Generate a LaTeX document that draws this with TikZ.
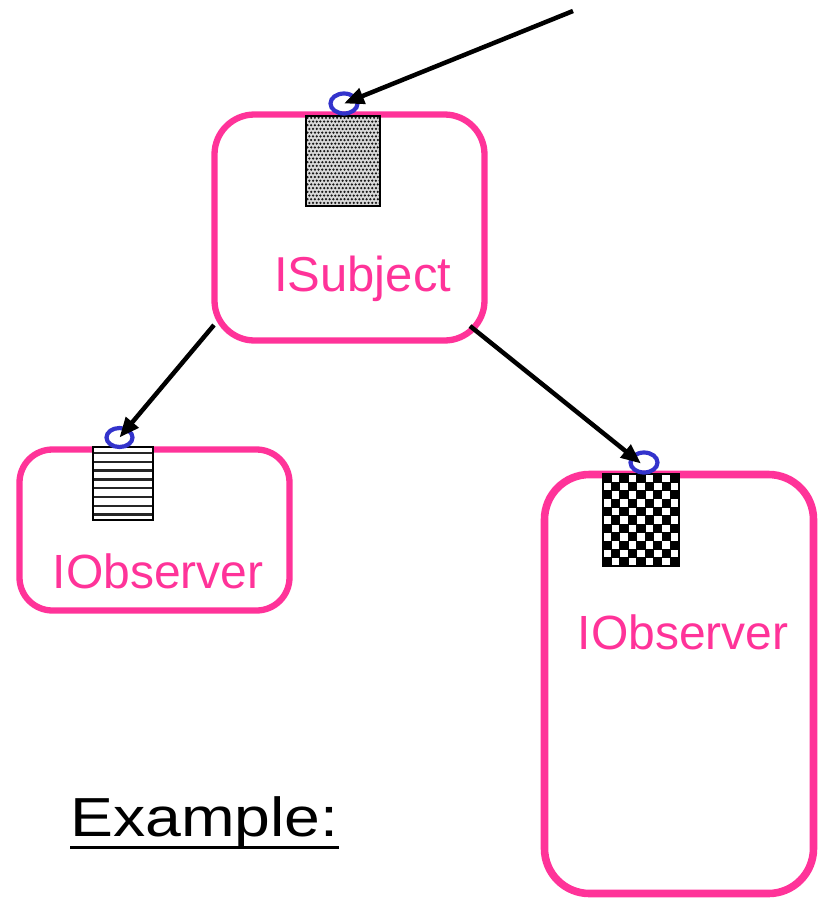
\documentclass[tikz,border=0pt]{standalone}
\usepackage{fontspec}
\setmainfont{Liberation Sans}
\usetikzlibrary{arrows.meta,shapes.geometric}
\definecolor{ifpink}{RGB}{255,51,153}
\definecolor{lollyblue}{RGB}{51,51,204}
\tikzset{
  compbox/.style={draw=ifpink, rounded corners=#1, inner sep=0pt},
  ifacebox/.style={draw=black, line width=2pt, fill=white, inner sep=0pt},
  lolly/.style={ellipse, draw=lollyblue, line width=4.2pt, inner sep=0pt,
                minimum width=27pt, minimum height=20pt},
  link/.style={draw=black, line width=4.5pt,
               -{Triangle[length=20pt,width=16pt]}},
  iflabel/.style={text=ifpink, font=\fontsize{48}{52}\selectfont,
                  anchor=base west, inner sep=0pt}
}
\begin{document}
\begin{tikzpicture}[x=1pt,y=-1pt]
\useasboundingbox (0,0) rectangle (819,898);

% components
\node[compbox=40pt, line width=6.3pt, minimum width=270pt, minimum height=226pt]
  (subject) at (349.5,227.5) {};
\node[compbox=33pt, line width=6.3pt, minimum width=270pt, minimum height=161pt]
  (obsA) at (154.5,530) {};
\node[compbox=45pt, line width=7.6pt, minimum width=269pt, minimum height=419pt]
  (obsB) at (679,684) {};

% labels
\node[iflabel, font=\fontsize{49}{53}\selectfont] (subjectlbl) at (274,291) {ISubject};
\node[iflabel] (obsAlbl) at (52.5,588) {IObserver};
\node[iflabel] (obsBlbl) at (577.5,649) {IObserver};

% interface blocks with their fill patterns
\node[ifacebox, minimum width=74pt, minimum height=90pt] (subjIf) at (343,161) {};
\begin{scope}
  \clip (306,116) rectangle (380,206);
  \fill[black!15] (306,116) rectangle (380,206);
  \foreach \i in {0,...,20}
    \foreach \j in {0,...,24} {
      \pgfmathsetmacro\dx{mod(\j,2)*1.85}
      \fill[black!90] (306+1.5+\dx+3.7*\i, 116+1.8+3.7*\j) circle (1.25pt);
    }
\end{scope}
\draw[line width=2pt] (306,116) rectangle (380,206);

\node[ifacebox, minimum width=60pt, minimum height=73pt] (obsAIf) at (123,483.5) {};
\foreach \k in {0,...,7}
  \draw[black!85, line width=2.3pt] (93,453+8.8*\k) -- (153,453+8.8*\k);
\draw[line width=2pt] (93,447) rectangle (153,520);

\node[ifacebox, minimum width=76pt, minimum height=92pt] (obsBIf) at (641,520) {};
\foreach \i in {0,...,8}
  \foreach \j in {0,...,10} {
    \pgfmathtruncatemacro\chk{mod(\i+\j,2)}
    \ifnum\chk=0
      \fill[black] (603+8.444*\i-0.4, 474+8.364*\j-0.4) rectangle ++(9.2,9.1);
    \fi
  }
\draw[line width=2pt] (603,474) rectangle (679,566);

% provided-interface sockets
\node[lolly] (subjSock) at (344,103.5) {};
\node[lolly, minimum width=26pt, minimum height=19pt] (obsASock) at (119.5,437.5) {};
\node[lolly] (obsBSock) at (644,462.5) {};

% connectors
\coordinate (caller) at (573,11);
\coordinate (subjL) at (214,325);
\coordinate (subjR) at (470,326);
\draw[link] (caller) -- (subjSock.center);
\draw[link] (subjL) -- (obsASock.center);
\draw[link] (subjR) -- ([xshift=-3pt,yshift=-1pt]obsBSock.center);

% caption
\node[anchor=base west, inner sep=0pt, font=\fontsize{55}{59}\selectfont]
  (example) at (70,836.5) {\scalebox{1.17}[1]{Example:}};
\draw[line width=3.4pt] ([yshift=-11pt]example.base west) -- ([yshift=-11pt]example.base east);
\end{tikzpicture}
\end{document}
